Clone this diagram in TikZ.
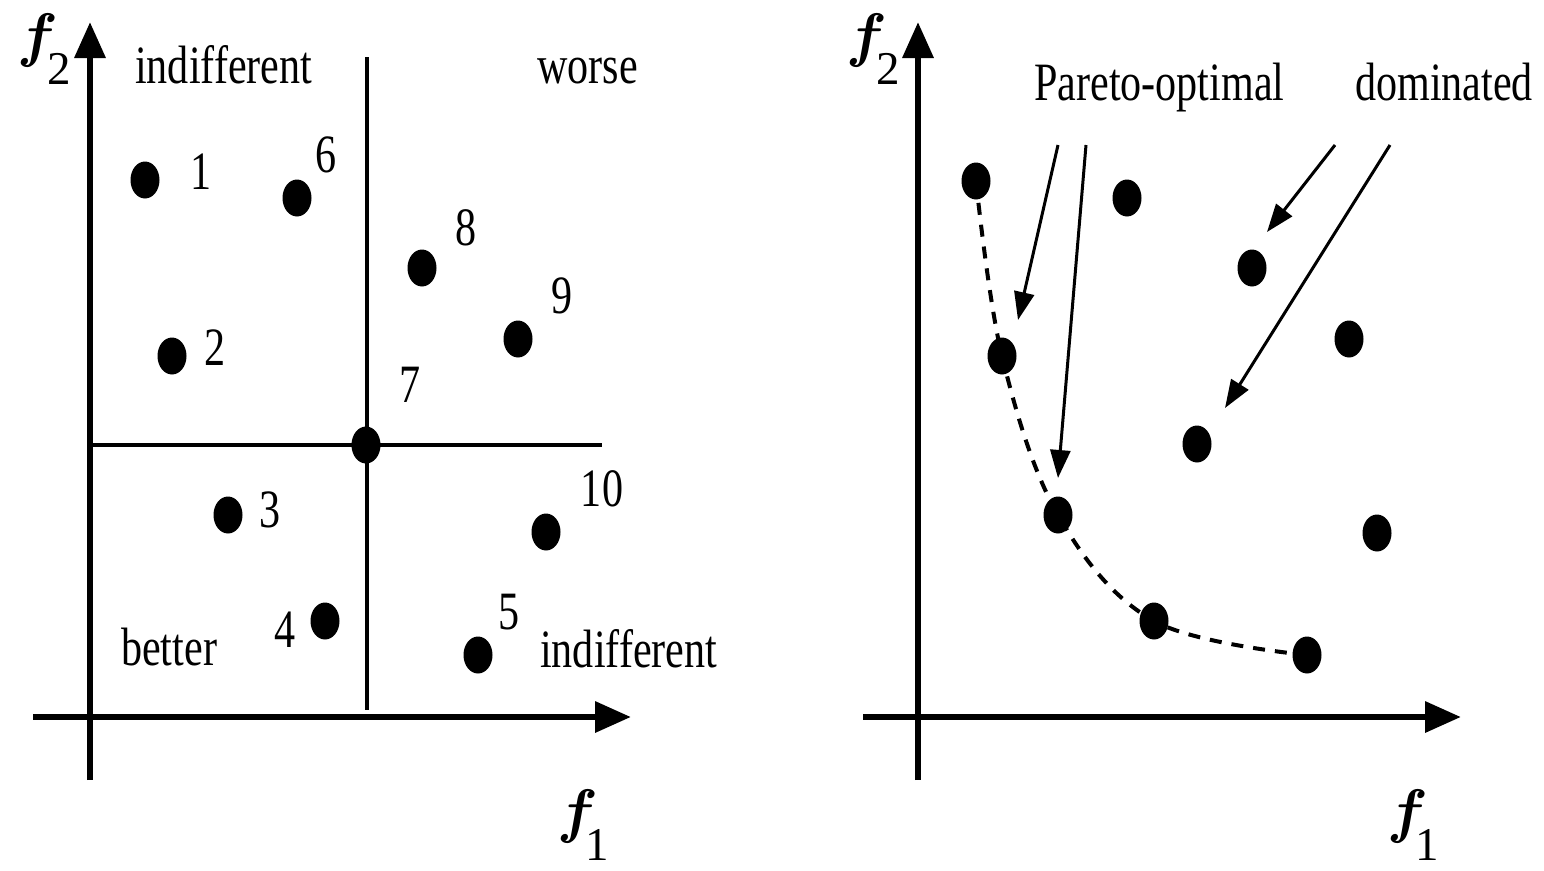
\documentclass[tikz,border=0pt]{standalone}
\usepackage{bm}
\usepackage{fontspec}
\setmainfont{Liberation Serif}[FakeStretch=0.78]
\newfontfamily\axisfont{Liberation Serif}
\usetikzlibrary{shapes.geometric,arrows.meta}
\tikzset{
 dot/.style={ellipse,fill=black,inner sep=0pt,minimum width=29pt,minimum height=37pt},
 lbl/.style={inner sep=0pt,anchor=base west,font=\fontsize{54}{60}\selectfont},
 num/.style={inner sep=0pt,font=\fontsize{54}{60}\selectfont},
 axis/.style={line width=6.5pt,-{Triangle[length=36pt,width=30pt]}},
 divider/.style={line width=3.5pt},
 ptr/.style={line width=3pt,-{Triangle[length=28pt,width=20pt]}},
 front/.style={dash pattern=on 12pt off 10pt, line width=4pt},
 axlbl/.style={inner sep=0pt,anchor=base west}
}
\newcommand{\fsub}[2]{\scalebox{6}{$\bm{f}$}\kern#2\raisebox{-29pt}{\axisfont\fontsize{47}{47}\selectfont #1}}
\begin{document}
\begin{tikzpicture}[x=1pt,y=-1pt]
\useasboundingbox (0,0) rectangle (1544,870);
% ---------- left panel ----------
\coordinate (LyB) at (90,780);
\coordinate (LyT) at (90,22);
\coordinate (LxL) at (33,717);
\coordinate (LxR) at (631,717);
\draw[axis] (LyB) -- (LyT);
\draw[axis] (LxL) -- (LxR);
\coordinate (LvT) at (367,57);
\coordinate (LvB) at (367,710);
\coordinate (LhL) at (90,445);
\coordinate (LhR) at (602,445);
\draw[divider] (LvT) -- (LvB);
\draw[divider] (LhL) -- (LhR);
\node[axlbl] (f2L) at (17,55) {\fsub{2}{-10pt}};
\node[axlbl] (f1L) at (557,831) {\fsub{1}{-12pt}};
\node[lbl] (indTL) at (135,83) {indifferent};
\node[lbl] (worse) at (537,83) {worse};
\node[lbl] (better) at (121,665) {better};
\node[lbl] (indBR) at (540,667) {indifferent};
\node[dot] (d1) at (145,180) {};
\node[dot] (d6) at (297,198) {};
\node[dot] (d8) at (422,268) {};
\node[dot] (d9) at (518,339) {};
\node[dot] (d2) at (172,356) {};
\node[dot] (d7) at (366,445) {};
\node[dot] (d3) at (228,515) {};
\node[dot] (d10) at (546,532) {};
\node[dot] (d4) at (325,621) {};
\node[dot] (d5) at (478,655) {};
\node[num] (n1) at (201,172) {1};
\node[num] (n6) at (326,155) {6};
\node[num] (n8) at (466,228) {8};
\node[num] (n9) at (562,296) {9};
\node[num] (n2) at (215,348) {2};
\node[num] (n7) at (410,385) {7};
\node[num] (n3) at (270,510) {3};
\node[num] (n10) at (602,489) {10};
\node[num] (n4) at (285,630) {4};
\node[num] (n5) at (509,612) {5};
% ---------- right panel ----------
\coordinate (RyB) at (918,780);
\coordinate (RyT) at (918,22);
\coordinate (RxL) at (863,717);
\coordinate (RxR) at (1461,717);
\draw[axis] (RyB) -- (RyT);
\draw[axis] (RxL) -- (RxR);
\node[axlbl] (f2R) at (846,55) {\fsub{2}{-10pt}};
\node[axlbl] (f1R) at (1387,831) {\fsub{1}{-12pt}};
\node[lbl] (pareto) at (1034,100) {Pareto-optimal};
\node[lbl] (dominated) at (1355,100) {dominated};
\node[dot] (r1) at (976,181) {};
\node[dot] (r6) at (1127,198) {};
\node[dot] (r8) at (1252,268) {};
\node[dot] (r9) at (1349,339) {};
\node[dot] (r2) at (1002,356) {};
\node[dot] (r7) at (1197,444) {};
\node[dot] (r3) at (1058,515) {};
\node[dot] (r10) at (1377,533) {};
\node[dot] (r4) at (1154,621) {};
\node[dot] (r5) at (1307,655) {};
\draw[front] plot[smooth,tension=0.6] coordinates {(r1) (r2) (r3) (r4) (r5)};
\coordinate (pa1s) at (1058,145);
\coordinate (pa1e) at (1018,320);
\coordinate (pa2s) at (1086,145);
\coordinate (pa2e) at (1058,478);
\coordinate (da1s) at (1335,145);
\coordinate (da1e) at (1267,232);
\coordinate (da2s) at (1390,145);
\coordinate (da2e) at (1225,408);
\draw[ptr] (pa1s) -- (pa1e);
\draw[ptr] (pa2s) -- (pa2e);
\draw[ptr] (da1s) -- (da1e);
\draw[ptr] (da2s) -- (da2e);
\end{tikzpicture}
\end{document}
